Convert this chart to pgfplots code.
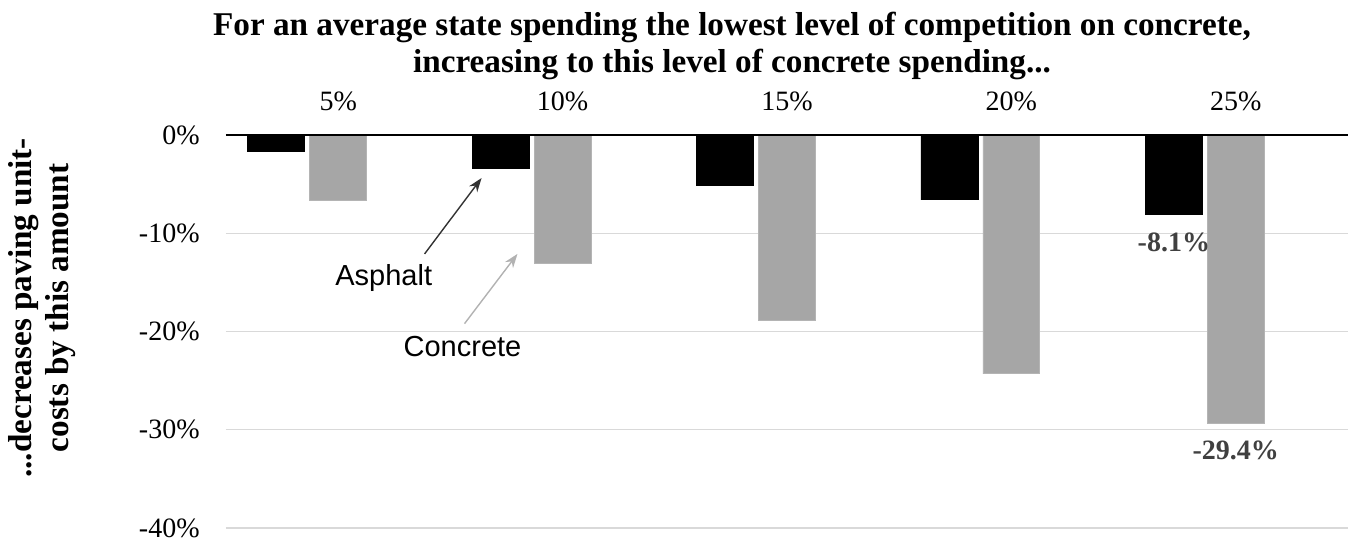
\documentclass[border=0pt]{standalone}
\usepackage{fontspec}
\setmainfont{Liberation Serif}
\newfontfamily\sansf{Liberation Sans}
\usepackage{pgfplots}
\pgfplotsset{compat=1.18}
\usetikzlibrary{arrows.meta}
\definecolor{concr}{HTML}{A6A6A6}
\definecolor{concredge}{HTML}{B4B4B4}
\definecolor{gridc}{HTML}{D9D9D9}
\definecolor{lbl}{HTML}{404040}
\begin{document}
\begin{tikzpicture}
\useasboundingbox (-113pt,-7.5pt) rectangle (564.5pt,264pt);
\begin{axis}[
  at={(0pt,0pt)}, anchor=south west,
  scale only axis, width=561pt, height=196.5pt,
  xmin=-0.5, xmax=4.5, ymin=-40, ymax=0,
  axis line style={draw=none},
  xtick={0,1,2,3,4},
  xticklabels={5\%,10\%,15\%,20\%,25\%},
  ytick={-40,-30,-20,-10,0},
  yticklabels={-40\%,-30\%,-20\%,-10\%,0\%},
  ymajorgrids, grid style={gridc, line width=0.6pt},
  major tick length=0pt,
  tick label style={font=\fontsize{14}{16}\selectfont},
  xticklabel pos=upper,
  xticklabel style={anchor=base, inner sep=0pt, yshift=12.5pt},
  yticklabel style={anchor=east, inner sep=0pt, xshift=-13pt},
  clip=false,
]
\addplot[ybar, bar width=0.254, bar shift=-0.276, fill=black, draw=black]
  coordinates {(0,-1.7) (1,-3.4) (2,-5.1) (3,-6.6) (4,-8.1)};
\addplot[ybar, bar width=0.254, bar shift=0, fill=concr, draw=concredge]
  coordinates {(0,-6.7) (1,-13.1) (2,-18.9) (3,-24.3) (4,-29.4)};
\draw[black, line width=1.1pt] (rel axis cs:0,1) -- (rel axis cs:1,1);
% title
\node[anchor=base, font=\fontsize{16.6}{19}\selectfont\bfseries] at (rel axis cs:0.451,1.252)
  {For an average state spending the lowest level of competition on concrete,};
\node[anchor=base, font=\fontsize{16.6}{19}\selectfont\bfseries] at (rel axis cs:0.451,1.160)
  {increasing to this level of concrete spending...};
% y label
\node[rotate=90, align=center, font=\fontsize{16.6}{18.5}\selectfont\bfseries] at (rel axis cs:-0.1635,0.56)
  {...decreases paving unit-\\costs by this amount};
% annotations
\node[font=\sansf\fontsize{14.5}{17}\selectfont] at (axis cs:0.203,-14.56) {Asphalt};
\node[font=\sansf\fontsize{14.5}{17}\selectfont] at (axis cs:0.554,-21.5) {Concrete};
\draw[-{Stealth[length=7pt,width=5pt]}, black!80, line width=0.7pt] (axis cs:0.385,-12.1) -- (axis cs:0.639,-4.38);
\draw[-{Stealth[length=7pt,width=5pt]}, black!30, line width=0.7pt] (axis cs:0.563,-19.2) -- (axis cs:0.799,-12.1);
% data labels
\node[font=\fontsize{14}{16}\selectfont\bfseries, text=lbl] at (axis cs:3.724,-10.9) {-8.1\%};
\node[font=\fontsize{14}{16}\selectfont\bfseries, text=lbl] at (axis cs:4,-32.1) {-29.4\%};
\end{axis}
\end{tikzpicture}
\end{document}
